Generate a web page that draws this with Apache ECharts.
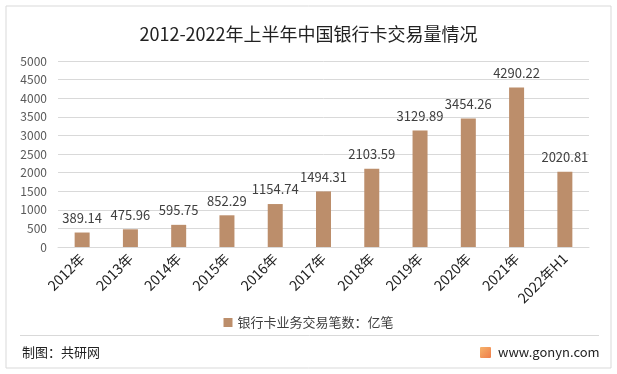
<!DOCTYPE html>
<html><head><meta charset="utf-8">
<script src="https://cdn.jsdelivr.net/npm/echarts@6/dist/echarts.min.js"></script>
<style>html,body{margin:0;padding:0;background:#fff;}#c{width:617px;height:374px;}</style>
</head><body><div id="c"></div>
<script>
const categories = ['2012年','2013年','2014年','2015年','2016年','2017年','2018年','2019年','2020年','2021年','2022年H1'];
const values = [389.14, 475.96, 595.75, 852.29, 1154.74, 1494.31, 2103.59, 3129.89, 3454.26, 4290.22, 2020.81];
const seriesName = '银行卡业务交易笔数：亿笔';
const titleText = '2012-2022年上半年中国银行卡交易量情况';
const F = '"Noto Sans CJK SC", "Noto Sans", sans-serif';
const chart = echarts.init(document.getElementById('c'), null, {renderer:'canvas'});
chart.setOption({
  backgroundColor:'#fff',
  animation:false,
  title:{text:titleText,left:'center',top:20,textStyle:{fontFamily:F,fontSize:18,fontWeight:'normal',color:'#222'}},
  grid:{left:58,right:28,top:61,bottom:127,containLabel:false},
  legend:{data:[seriesName],bottom:40,left:'center',itemWidth:9,itemHeight:9,icon:'rect',itemGap:4,
    textStyle:{fontFamily:F,fontSize:13,color:'#404040'}},
  xAxis:{type:'category',data:categories,
    axisLine:{lineStyle:{color:'#d9d9d9'}},axisTick:{show:false},
    axisLabel:{rotate:45,interval:0,fontFamily:F,fontSize:14,color:'#222',margin:9}},
  yAxis:{type:'value',min:0,max:5000,interval:500,
    axisLine:{show:false},axisTick:{show:false},
    splitLine:{lineStyle:{color:'#d9d9d9'}},
    axisLabel:{fontFamily:F,fontSize:12,color:'#595959',margin:11,formatter:v=>String(v)}},
  series:[{name:seriesName,type:'bar',data:values,barWidth:15,
    itemStyle:{color:'#BC8E6B'},
    label:{show:true,position:'top',distance:8,fontFamily:F,fontSize:13,color:'#404040',
      formatter:p=>p.value.toFixed(2)}}],
  graphic:[
    {type:'rect',shape:{x:6,y:6,width:605,height:362},style:{fill:'none',stroke:'#d9d9d9',lineWidth:1},silent:true},
    {type:'line',shape:{x1:20,y1:335.5,x2:599,y2:335.5},style:{stroke:'#d9d9d9',lineWidth:1}},
    {type:'text',left:22,top:346,style:{text:'制图：共研网',fontFamily:F,fontSize:13,fill:'#222'}},
    {type:'rect',shape:{x:480,y:347,width:11,height:11,r:1},style:{fill:new echarts.graphic.LinearGradient(0,0,1,1,[{offset:0,color:'#f6b36b'},{offset:1,color:'#ef7d4a'}])}},
    {type:'text',left:498,top:346,style:{text:'www.gonyn.com',fontFamily:F,fontSize:13,fill:'#222'}}
  ]
});
</script></body></html>
